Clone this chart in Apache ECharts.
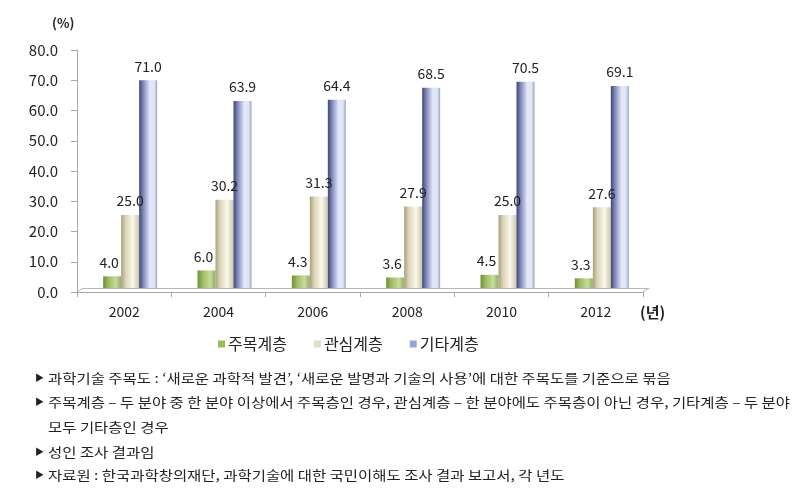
<!DOCTYPE html>
<html><head><meta charset="utf-8">
<script src="https://cdn.jsdelivr.net/npm/echarts@6/dist/echarts.min.js"></script>
<style>html,body{margin:0;padding:0;background:#fff}#c{width:805px;height:496px}</style>
</head><body><div id="c"></div>
<script>
const years = ['2002','2004','2006','2008','2010','2012'];
const seriesNames = ['주목계층','관심계층','기타계층'];
const focus = [4.0, 6.0, 4.3, 3.6, 4.5, 3.3];
const interest = [25.0, 30.2, 31.3, 27.9, 25.0, 27.6];
const other = [71.0, 63.9, 64.4, 68.5, 70.5, 69.1];
const yTicks = {min: 0, max: 80, interval: 10};
const notes = [
  "과학기술 주목도 : ‘새로운 과학적 발견’, ‘새로운 발명과 기술의 사용’에 대한 주목도를 기준으로 묶음",
  "주목계층 – 두 분야 중 한 분야 이상에서 주목층인 경우, 관심계층 – 한 분야에도 주목층이 아닌 경우, 기타계층 – 두 분야",
  "모두 기타층인 경우",
  "성인 조사 결과임",
  "자료원 : 한국과학창의재단, 과학기술에 대한 국민이해도 조사 결과 보고서, 각 년도"
];
const noteBullets = [true, true, false, true, true];

const FONT = '"Noto Sans CJK KR", "Noto Sans", sans-serif';
function grad(stops){return {type:'linear',x:0,y:0,x2:1,y2:0,colorStops:stops.map((c,i)=>({offset:c[0],color:c[1]}))};}
const colors = [
  grad([[0,'#6f8f37'],[0.3,'#9fbd60'],[0.7,'#c6dc9c'],[1,'#93ad63']]),
  grad([[0,'#a89f80'],[0.25,'#dbd4b7'],[0.65,'#fbf8eb'],[1,'#cbc5ad']]),
  grad([[0,'#3e466f'],[0.2,'#7880b4'],[0.6,'#e3e9fb'],[0.85,'#dde4f6'],[1,'#9ca2b6']])
];
const legendColors = ['#9bbb59','#e4dfc8','#9aa3d6'];

const cv = document.createElement('canvas').getContext('2d');
cv.font = '13px ' + FONT;
const w2 = cv.measureText(notes[1]).width;
const sx = (790 - 48) / w2;

const graphics = [
  {type:'text', left:52, top:17, style:{text:'(%)', font:'bold 13px '+FONT, fill:'#222'}},
  {type:'text', left:640, top:305, style:{text:'(년)', font:'bold 15px '+FONT, fill:'#222'}},
  {type:'line', shape:{x1:77,y1:292,x2:83,y2:288}, style:{stroke:'#b0b0b0',lineWidth:1}},
  {type:'line', shape:{x1:643,y1:292,x2:649,y2:288}, style:{stroke:'#b0b0b0',lineWidth:1}}
];
const lineY = [378, 402, 427, 452, 475];
notes.forEach((t,i)=>{
  if(noteBullets[i]) graphics.push({type:'text', x:35, y:lineY[i], style:{text:'▶', font:'9px '+FONT, fill:'#222', verticalAlign:'middle'}});
  graphics.push({type:'text', x:48, y:lineY[i], scaleX:sx, style:{text:t, font:'13px '+FONT, fill:'#222', verticalAlign:'middle'}});
});

const chart = echarts.init(document.getElementById('c'));
const series = [focus, interest, other].map((d,i)=>({
  name: seriesNames[i], type:'bar', xAxisIndex:1, yAxisIndex:1,
  data: d, barWidth:18, barGap:'0%',
  itemStyle:{color: colors[i]},
  label:{show:true, position:'top', distance:7, offset:[i===0?-3:0,0], formatter:p=>p.value.toFixed(1), fontSize:14, color:'#222', fontFamily:FONT}
}));
chart.setOption({
  backgroundColor:'#fff',
  animation:false,
  textStyle:{fontFamily:FONT},
  grid:[
    {left:77, right:162, top:50, bottom:204},
    {left:83, right:156, top:54, bottom:208}
  ],
  legend:{
    left:213, top:331, itemWidth:7, itemHeight:7, itemGap:27, icon:'rect',
    data: seriesNames.map((n,i)=>({name:n, itemStyle:{color:legendColors[i]}})),
    textStyle:{fontSize:16, color:'#222', fontFamily:FONT, padding:[0,0,0,-2]}
  },
  xAxis:[
    {type:'category', gridIndex:0, data:years,
     axisLine:{lineStyle:{color:'#a8a8a8'}}, axisTick:{show:true, length:5, lineStyle:{color:'#a8a8a8'}},
     axisLabel:{fontSize:14, color:'#222', margin:13}},
    {type:'category', gridIndex:1, data:years,
     axisLine:{lineStyle:{color:'#b8b8b8'}}, axisTick:{show:false}, axisLabel:{show:false}}
  ],
  yAxis:[
    {type:'value', gridIndex:0, min:yTicks.min, max:yTicks.max, interval:yTicks.interval,
     axisLine:{show:true, lineStyle:{color:'#a8a8a8'}}, axisTick:{show:true, length:6, lineStyle:{color:'#a8a8a8'}},
     splitLine:{show:false}, axisLabel:{fontSize:15, color:'#222', margin:19, formatter:v=>v.toFixed(1)}},
    {type:'value', gridIndex:1, min:yTicks.min, max:yTicks.max, interval:yTicks.interval,
     axisLine:{show:false}, axisTick:{show:false}, splitLine:{show:false}, axisLabel:{show:false}}
  ],
  series: series,
  graphic: graphics
});
</script></body></html>
